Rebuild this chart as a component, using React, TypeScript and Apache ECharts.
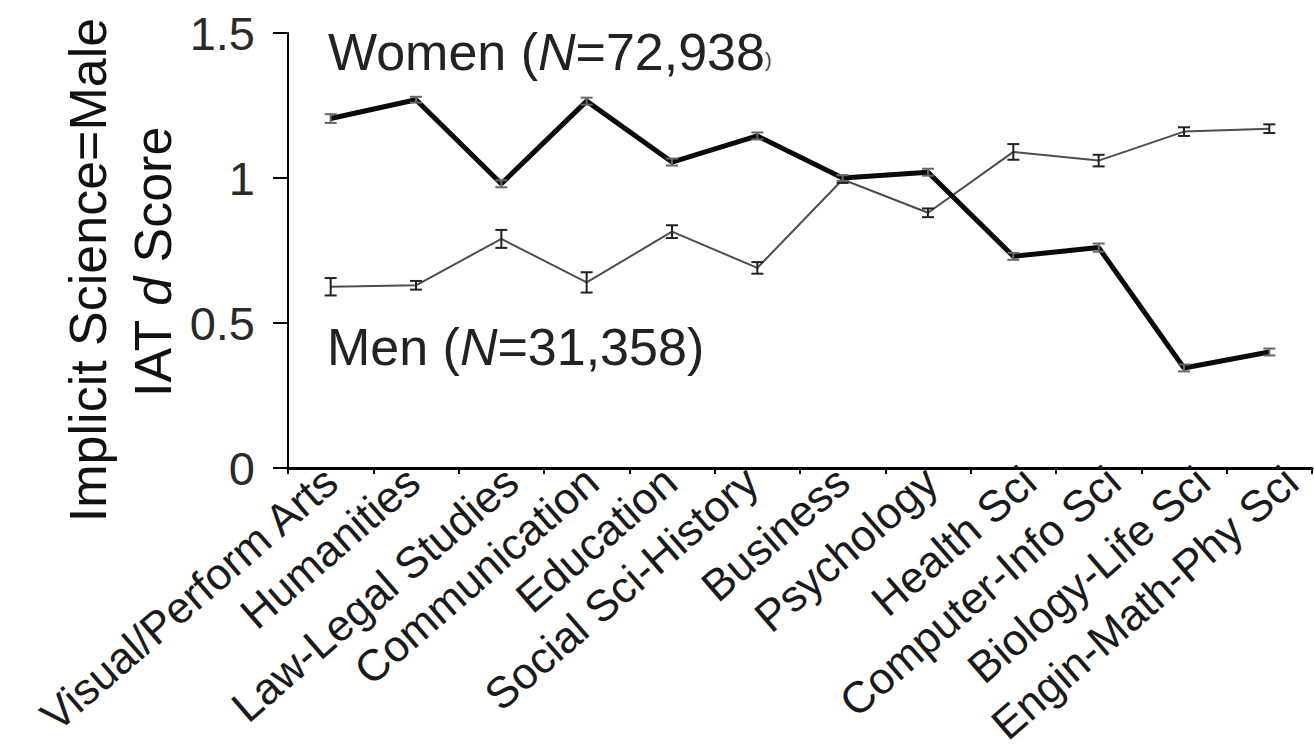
import React, { useEffect, useRef } from "react";
import * as echarts from "echarts";

const categories = [
  "Visual/Perform Arts",
  "Humanities",
  "Law-Legal Studies",
  "Communication",
  "Education",
  "Social Sci-History",
  "Business",
  "Psychology",
  "Health Sci",
  "Computer-Info Sci",
  "Biology-Life Sci",
  "Engin-Math-Phy Sci",
];

const women = [1.205, 1.27, 0.98, 1.265, 1.055, 1.145, 1.0, 1.02, 0.73, 0.76, 0.345, 0.4];
const womenErr = [0.015, 0.01, 0.012, 0.012, 0.012, 0.012, 0.01, 0.012, 0.012, 0.014, 0.012, 0.012];
const men = [0.625, 0.63, 0.79, 0.64, 0.815, 0.69, 0.995, 0.88, 1.09, 1.06, 1.16, 1.17];
const menErr = [0.03, 0.015, 0.031, 0.035, 0.022, 0.02, 0.012, 0.015, 0.027, 0.02, 0.015, 0.015];

const yMin = 0;
const yMax = 1.5;
const yStep = 0.5;

// horizontal label nudges (px) to mimic the hand-placed labels of the original figure
const labelNudge = [0, -3, 10, 5, -2, -6, 0, 3, 16, 15, 19, 22];

const FONT = "'Liberation Sans', Arial, Helvetica, sans-serif";
const ROT = 41;
const LABEL_SIZE = 44;

function errorSeries(name: string, vals: number[], errs: number[], color: string, lw: number, capW: number) {
  return {
    type: "custom",
    name,
    z: 5,
    encode: { x: 0, y: [1, 2] },
    data: vals.map((v, i) => [i, v - errs[i], v + errs[i]]),
    renderItem: (_params: any, api: any) => {
      const i = api.value(0);
      const lo = api.coord([i, api.value(1)]);
      const hi = api.coord([i, api.value(2)]);
      const h = capW / 2;
      const style = { stroke: color, lineWidth: lw };
      return {
        type: "group",
        children: [
          { type: "line", shape: { x1: lo[0], y1: lo[1], x2: hi[0], y2: hi[1] }, style },
          { type: "line", shape: { x1: lo[0] - h, y1: lo[1], x2: lo[0] + h, y2: lo[1] }, style },
          { type: "line", shape: { x1: hi[0] - h, y1: hi[1], x2: hi[0] + h, y2: hi[1] }, style },
        ],
      };
    },
  };
}

export default function App() {
  const ref = useRef<HTMLDivElement>(null);
  useEffect(() => {
    if (!ref.current) return;
    const chart = echarts.init(ref.current, null, { renderer: "svg" });
    const rad = (ROT * Math.PI) / 180;
    const catData = categories.map((c, i) => {
      const d = labelNudge[i];
      const a = d * Math.cos(rad);
      const b = d * Math.sin(rad);
      return {
        value: c,
        textStyle: { verticalAlign: "top", padding: [b - LABEL_SIZE / 2, -a, 0, 0] },
      };
    });
    const option: any = {
      animation: false,
      backgroundColor: "#ffffff",
      grid: {
        left: 288,
        right: 2,
        top: 33,
        bottom: 283,
        containLabel: false,
        outerBoundsMode: "none",
      },
      xAxis: {
        type: "category",
        data: catData,
        boundaryGap: true,
        axisLine: { show: true, lineStyle: { color: "#000", width: 3 } },
        axisTick: { show: true, alignWithLabel: false, length: 6, lineStyle: { color: "#000", width: 2 } },
        axisLabel: {
          interval: 0,
          rotate: ROT,
          margin: 7,
          fontSize: LABEL_SIZE,
          fontFamily: FONT,
          color: "#1a1a1a",
          hideOverlap: false,
        },
        splitLine: { show: false },
      },
      yAxis: {
        type: "value",
        min: yMin,
        max: yMax,
        interval: yStep,
        axisLine: { show: true, lineStyle: { color: "#000", width: 2 } },
        axisTick: { show: true, inside: false, length: 15, lineStyle: { color: "#000", width: 2 } },
        axisLabel: {
          margin: 33,
          fontSize: 47,
          fontFamily: FONT,
          color: "#2a2a2a",
        },
        splitLine: { show: false },
      },
      series: [
        {
          type: "line",
          name: "Men",
          data: men,
          symbol: "none",
          z: 3,
          lineStyle: { color: "#4d4d4d", width: 2 },
        },
        errorSeries("Men error", men, menErr, "#222", 2, 12),
        {
          type: "line",
          name: "Women",
          data: women,
          symbol: "none",
          z: 4,
          lineStyle: { color: "#0a0a0a", width: 5 },
        },
        errorSeries("Women error", women, womenErr, "#666", 2, 12),
      ],
      graphic: [
        {
          type: "text",
          x: 88,
          y: 270,
          rotation: Math.PI / 2,
          style: {
            text: "Implicit Science=Male",
            fontSize: 52,
            fontFamily: FONT,
            fill: "#111",
            align: "center",
            verticalAlign: "middle",
            textAlign: "center",
            textVerticalAlign: "middle",
          },
        },
        {
          type: "text",
          x: 153,
          y: 262,
          rotation: Math.PI / 2,
          style: {
            text: "{n|IAT }{i|d}{n| Score}",
            fontSize: 52,
            fontFamily: FONT,
            fill: "#111",
            align: "center",
            verticalAlign: "middle",
            textAlign: "center",
            textVerticalAlign: "middle",
            rich: {
              n: { fontSize: 52, fontFamily: FONT, fill: "#111" },
              i: { fontSize: 52, fontFamily: FONT, fontStyle: "italic", fill: "#111" },
            },
          },
        },
        {
          type: "text",
          x: 328,
          y: 52,
          style: {
            text: "{a|Women (}{b|N}{a|=72,938}{c|)}",
            fontSize: 52,
            fontFamily: FONT,
            fill: "#222",
            align: "left",
            verticalAlign: "middle",
            textAlign: "left",
            textVerticalAlign: "middle",
            rich: {
              a: { fontSize: 52, fontFamily: FONT, fill: "#222" },
              b: { fontSize: 52, fontFamily: FONT, fontStyle: "italic", fill: "#222" },
              c: { fontSize: 20, fontFamily: FONT, fill: "#444", verticalAlign: "bottom", padding: [0, 0, 8, 0] },
            },
          },
        },
        {
          type: "text",
          x: 327,
          y: 347,
          style: {
            text: "{a|Men (}{b|N}{a|=31,358)}",
            fontSize: 52,
            fontFamily: FONT,
            fill: "#222",
            align: "left",
            verticalAlign: "middle",
            textAlign: "left",
            textVerticalAlign: "middle",
            rich: {
              a: { fontSize: 52, fontFamily: FONT, fill: "#222" },
              b: { fontSize: 52, fontFamily: FONT, fontStyle: "italic", fill: "#222" },
            },
          },
        },
      ],
    };
    chart.setOption(option);
    return () => chart.dispose();
  }, []);
  return (
    <div
      ref={ref}
      style={{ position: "fixed", left: 0, top: 0, width: 1314, height: 751, background: "#fff" }}
    />
  );
}
